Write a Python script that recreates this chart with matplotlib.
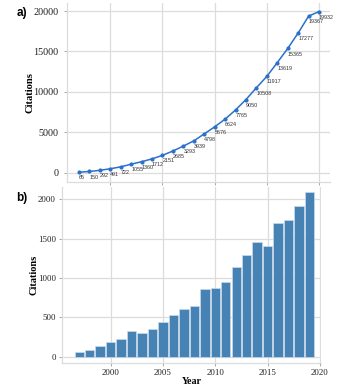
import matplotlib
matplotlib.use("Agg")
import matplotlib.pyplot as plt

cum_years = list(range(1997, 2021))
cum_citations = [65, 150, 292, 491, 722, 1055, 1360, 1712, 2151, 2685, 3293, 3939,
                 4798, 5676, 6624, 7765, 9050, 10508, 11917, 13619, 15365, 17277,
                 19367, 19932]

bar_years = list(range(1997, 2020))
bar_citations = [60, 85, 140, 195, 230, 330, 305, 350, 440, 535, 605, 645,
                 860, 875, 950, 1140, 1285, 1455, 1410, 1700, 1740, 1910, 2090]

serif = ['Liberation Serif', 'DejaVu Serif']
sans = ['Liberation Sans', 'DejaVu Sans']
grid_c = '#dcdcdc'

fig = plt.figure(figsize=(3.42, 3.87), dpi=100)
W, H = 342, 387

def box(l, t, r, b):
    return [l / W, 1 - b / H, (r - l) / W, (b - t) / H]

def style(ax):
    ax.set_facecolor('white')
    ax.grid(True, color=grid_c, linewidth=0.9)
    ax.set_axisbelow(True)
    for s in ['top', 'right']:
        ax.spines[s].set_visible(False)
    for s in ['left', 'bottom']:
        ax.spines[s].set_color(grid_c)
        ax.spines[s].set_linewidth(0.9)
    ax.tick_params(colors='#999999', length=2.5, width=0.6, labelcolor='#222222')
    for lab in ax.get_xticklabels() + ax.get_yticklabels():
        lab.set_family(serif)

# Panel a
ax1 = fig.add_axes(box(67, 3, 330, 182))
ax1.plot(cum_years, cum_citations, color='#2b70c9', linewidth=1.1, marker='o',
         markersize=2.0, zorder=3)
for x, y in zip(cum_years, cum_citations):
    ax1.annotate(str(y), (x, y), xytext=(0, -4), textcoords='offset points',
                 ha='left', va='center', fontsize=3.9, color='#333333', family=sans)
ax1.set_xlim(1995.85, 2021.05)
ax1.set_ylim(-1150, 20990)
ax1.set_xticks([2000, 2005, 2010, 2015, 2020])
ax1.set_yticks([0, 5000, 10000, 15000, 20000])
ax1.set_xticklabels([])
ax1.set_ylabel('Citations', family=serif, fontweight='bold', fontsize=7.6)
ax1.yaxis.set_label_coords(-0.125, 0.5)
ax1.tick_params(axis='y', labelsize=7.3)
style(ax1)

# Panel b
ax2 = fig.add_axes(box(62, 187, 321, 363))
ax2.bar(bar_years, bar_citations, width=0.9, color='#4682b4',
        edgecolor='#c9dbeb', linewidth=0.5, zorder=3)
ax2.set_xlim(1995.35, 2020.1)
ax2.set_ylim(-76, 2152)
ax2.set_xticks([2000, 2005, 2010, 2015, 2020])
ax2.set_yticks([0, 500, 1000, 1500, 2000])
ax2.set_ylabel('Citations', family=serif, fontweight='bold', fontsize=7.5)
ax2.yaxis.set_label_coords(-0.091, 0.5)
ax2.set_xlabel('Year', family=serif, fontweight='bold', fontsize=7.2, labelpad=0)
ax2.tick_params(labelsize=6.4, pad=2)
style(ax2)

fig.text(22 / W, 1 - 13 / H, 'a)', fontsize=8.5, fontweight='bold', family=sans,
         ha='center', va='center')
fig.text(22 / W, 1 - 198 / H, 'b)', fontsize=8.5, fontweight='bold', family=sans,
         ha='center', va='center')

fig.savefig('out.png', dpi=100, facecolor='white')
